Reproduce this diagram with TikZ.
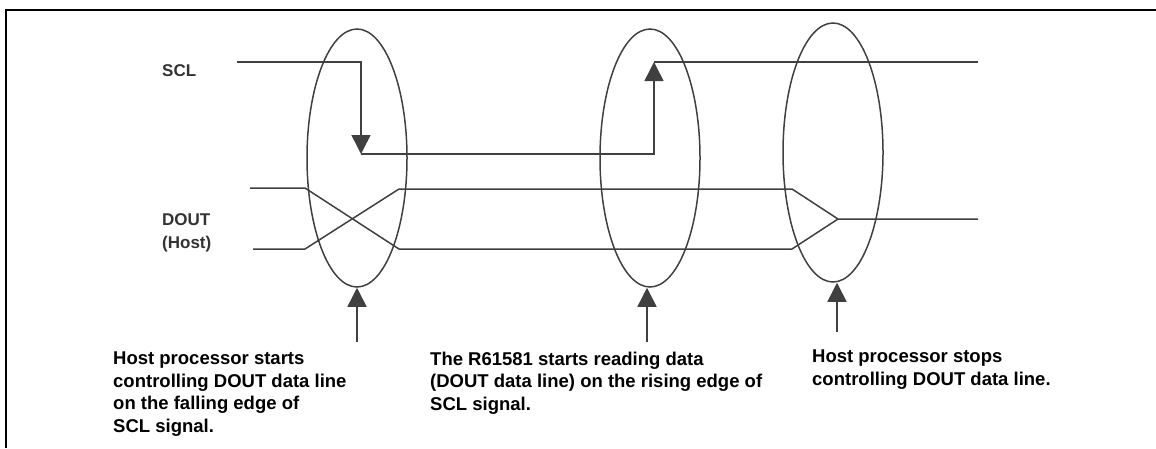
\documentclass[tikz,border=0pt]{standalone}
\usepackage{fontspec}
\setmainfont{Liberation Sans}
\usetikzlibrary{arrows.meta}
\usetikzlibrary{shapes.geometric}
\usepackage{xcolor}
\definecolor{sig}{HTML}{404040}

\tikzset{
  wire/.style={line width=1.5pt, draw=sig},
  tip/.style={-{Triangle[length=19pt,width=19pt]}},
  ring/.style={ellipse, draw=sig, line width=1.5pt, minimum width=100pt,
    minimum height=258pt, inner sep=0pt},
  note/.style={anchor=base west, align=left, inner sep=0pt,
    font=\fontsize{18.5}{22.4}\selectfont\bfseries},
  lbl/.style={anchor=base west, align=left, inner sep=0pt, text=black!80,
    font=\fontsize{17}{23}\selectfont\bfseries}
}

\begin{document}
\begin{tikzpicture}[x=1pt,y=-1pt]
  \useasboundingbox (0,0) rectangle (1156,448);

  % Frame
  \draw[line width=2.5pt] (6,448) -- (6,10) -- (1156,10);

  % Ellipses
  \node[ring] (e1) at (357,158) {};
  \node[ring] (e2) at (650,158) {};
  \node[ring, minimum height=259pt] (e3) at (833,152.5) {};

  % Signal names (anchored on the last baseline)
  \node[lbl] (scl) at (162,76) {SCL};
  \node[lbl] (dout) at (162,248) {DOUT\\(Host)};

  % SCL
  \coordinate (s0) at (237,62);
  \coordinate (s1) at (361,154);
  \coordinate (s2) at (654,62);
  \coordinate (s3) at (978,62);
  \draw[wire,tip] (s0) -| (s1);
  \draw[wire,tip] (s1) -| (s2);
  \draw[wire] (s2) -- (s3);

  % DOUT
  \draw[wire] (250,188) -- (305,188) -- (399,249) -- (792,249) -- (838,219) -- (978,219);
  \draw[wire] (253,249) -- (305,249) -- (399,189) -- (792,189) -- (838,219);

  % Pointers
  \foreach \n/\x/\b in {1/357/342, 2/647/342, 3/837/332}
  {
    \coordinate (a\n) at (\x,\b);
    \draw[wire,tip] (a\n) -- (a\n |- e\n.south);
  }

  % Notes (anchored on the last baseline)
  \node[note] (n1) at (113,432) {Host processor starts\\controlling DOUT data line\\on the falling edge of\\SCL signal.};
  \node[note] (n2) at (430,410) {The R61581 starts reading data\\(DOUT data line) on the rising edge of\\SCL signal.};
  \node[note] (n3) at (812,385) {Host processor stops\\controlling DOUT data line.};
\end{tikzpicture}
\end{document}
